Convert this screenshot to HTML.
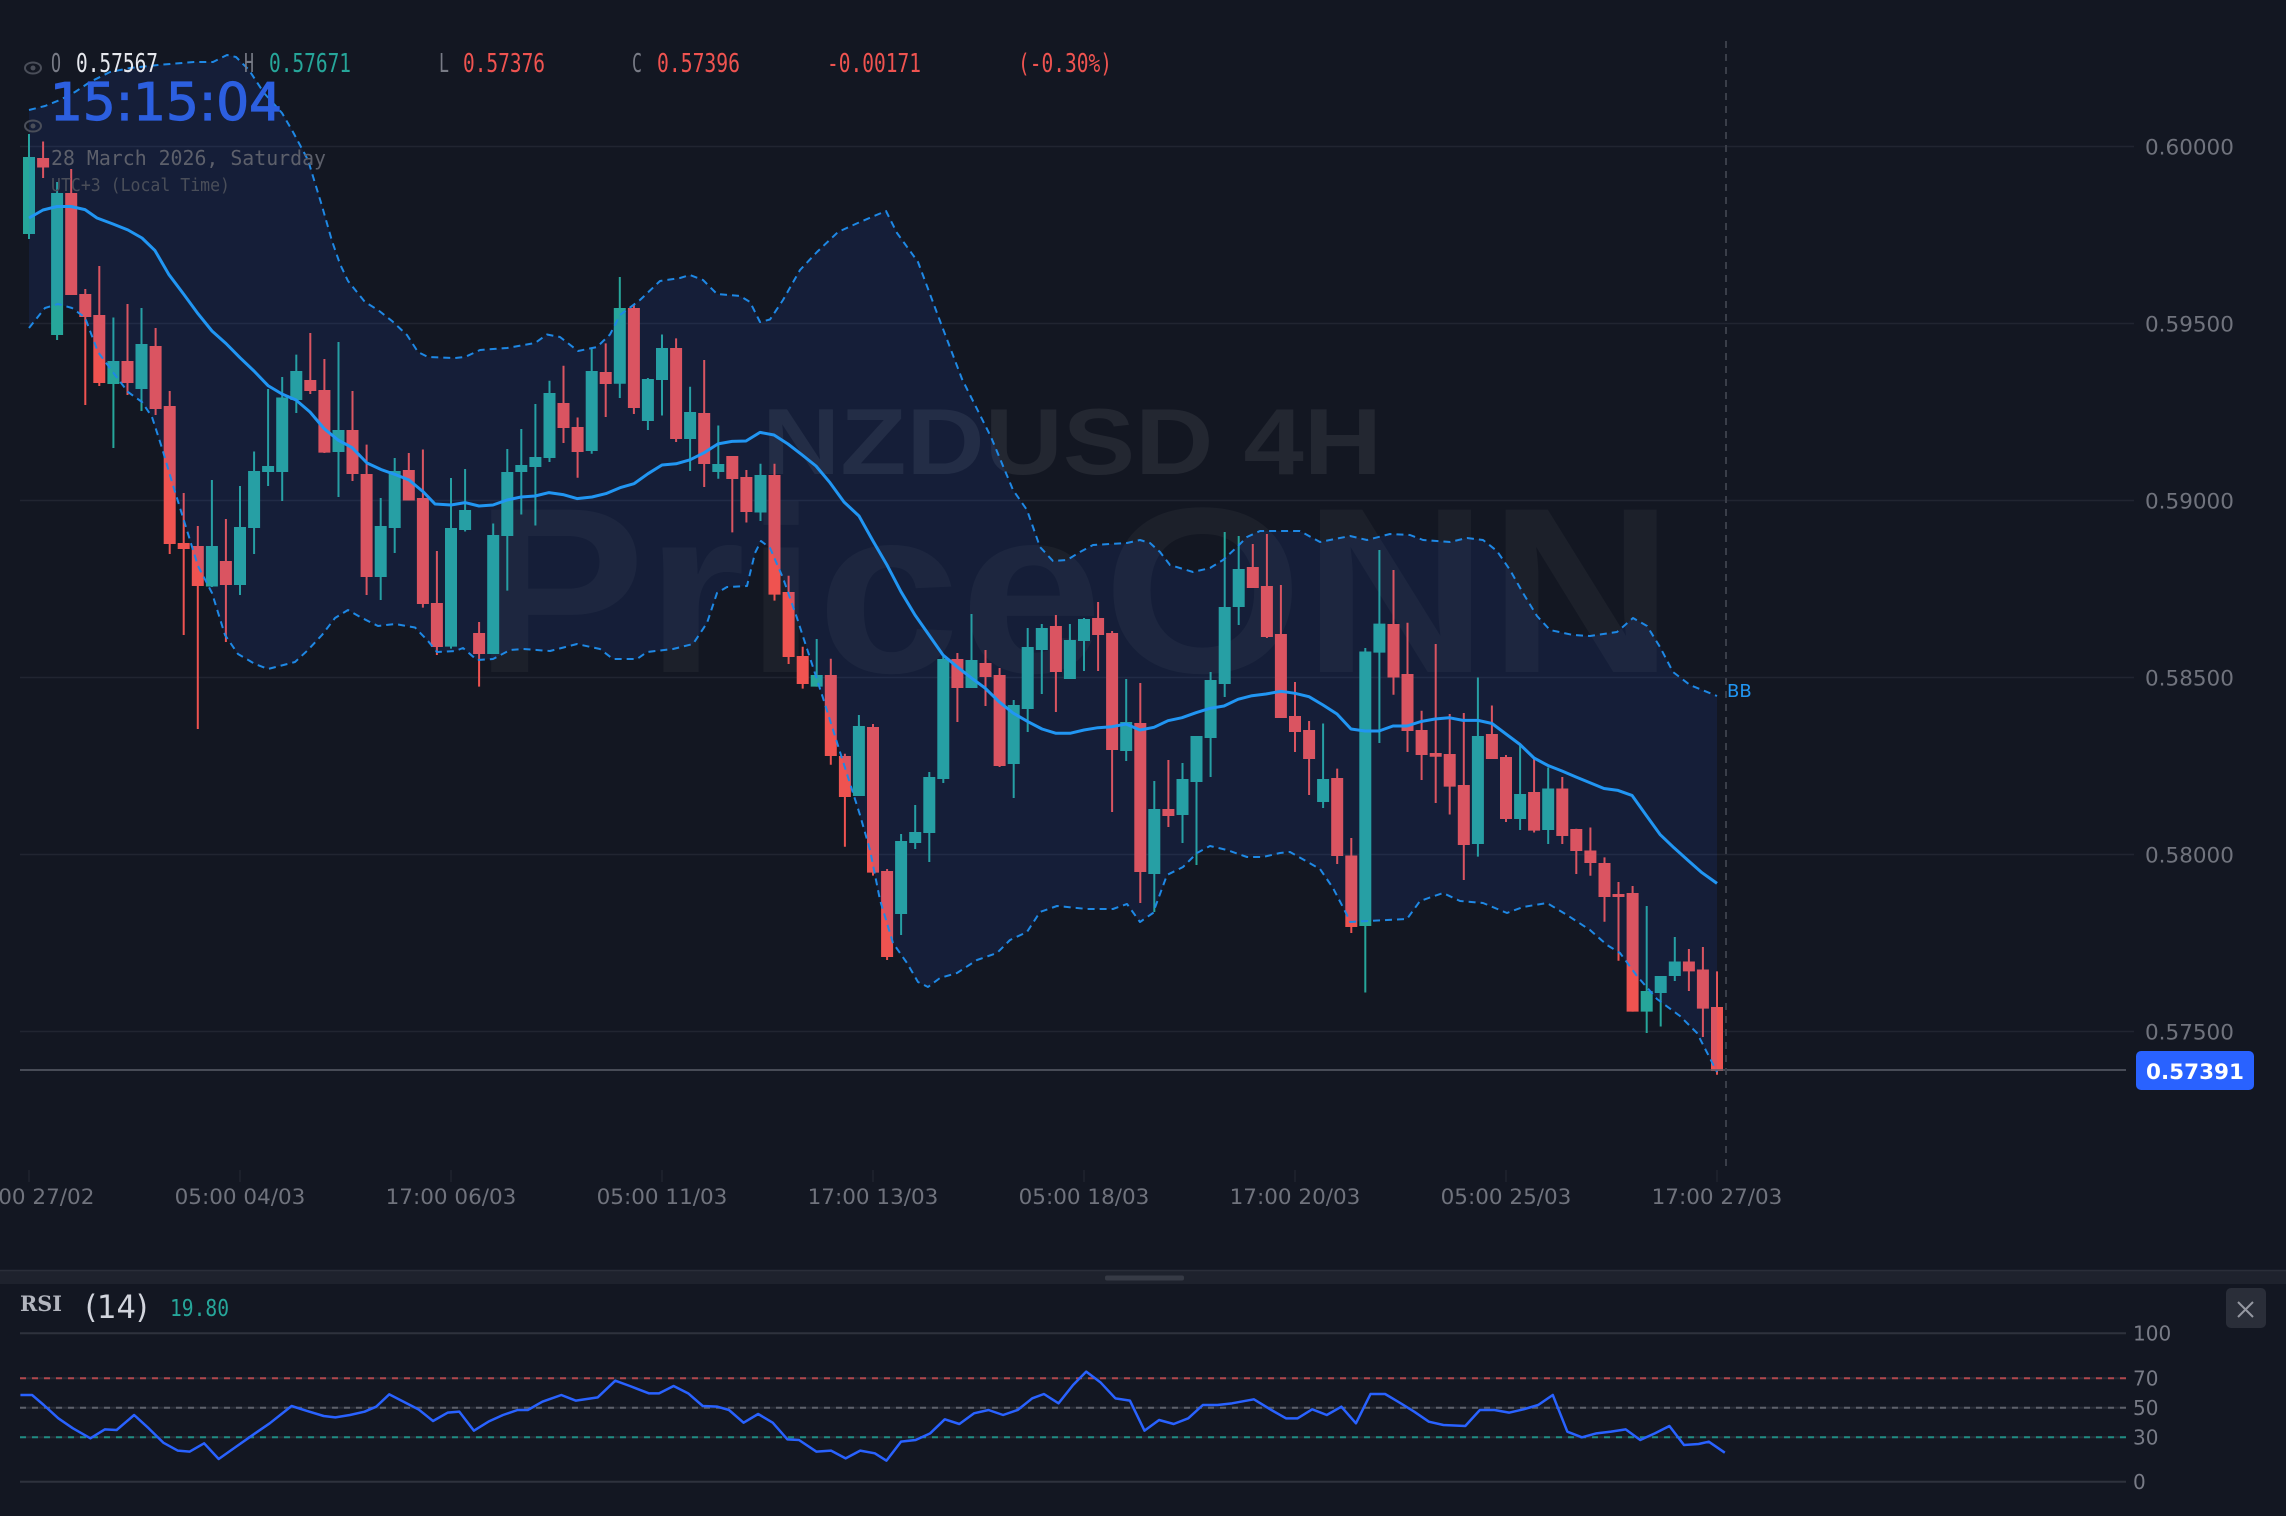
<!DOCTYPE html>
<html><head><meta charset="utf-8"><style>
html,body{margin:0;padding:0;background:#131722;}
svg{display:block;}
</style></head><body>
<svg width="2286" height="1516" viewBox="0 0 2286 1516" xmlns="http://www.w3.org/2000/svg">
<rect x="0" y="0" width="2286" height="1516" fill="#131722"/>
<!-- watermark -->
<text x="474" y="672" font-family="Liberation Sans, DejaVu Sans, sans-serif" font-weight="bold" font-size="236" textLength="1200" lengthAdjust="spacingAndGlyphs" fill="rgba(255,255,255,0.04)">PriceONN</text>
<text x="762" y="474" font-family="Liberation Sans, DejaVu Sans, sans-serif" font-weight="bold" font-size="94" textLength="620" lengthAdjust="spacingAndGlyphs" fill="rgba(255,255,255,0.07)">NZDUSD 4H</text>
<!-- gridlines -->
<g stroke="#212531" stroke-width="1.5">
<line x1="20" y1="146.5" x2="2134" y2="146.5"/>
<line x1="20" y1="323.5" x2="2134" y2="323.5"/>
<line x1="20" y1="500.5" x2="2134" y2="500.5"/>
<line x1="20" y1="677.5" x2="2134" y2="677.5"/>
<line x1="20" y1="854.5" x2="2134" y2="854.5"/>
<line x1="20" y1="1031.5" x2="2134" y2="1031.5"/>
</g>
<!-- teal wicks -->
<path fill="none" stroke="#26a69a" stroke-width="2" d="M29 134V239M57.1 182V340M113.4 317.5V448M141.5 308V411M211.9 480V587M240 486V595M254.1 451.5V554M268.1 389V486M282.2 377V501M296.3 354.6V413M338.5 342V497M380.7 498V600M394.7 458V553M451 478V648.6M465.1 469V531.5M493.2 523.5V654M507.3 449V590.6M521.3 429V514.5M535.4 404V525.5M549.5 380.7V462M591.7 349V453.8M619.8 277V398M647.9 378V430M662 334.5V415.5M690.1 386.7V471M718.3 425.5V478.7M760.5 463.8V521M816.7 639V686.6M858.9 715V796M901.1 834V935M915.2 805V849M929.3 772V862M943.3 655V783M971.5 614V688M1013.7 700V798M1027.7 628V732M1041.8 624V694M1069.9 624V679M1084 618V671M1126.2 679V761M1154.3 781V912M1182.5 763V843M1196.5 736V865M1210.6 672V777M1224.7 532V697M1238.7 536V625M1323.1 723.5V808M1365.3 648V992.5M1379.4 550V743M1477.9 677.5V856.6M1520.1 743.7V830M1548.2 767.5V844M1646.7 906V1033M1660.7 976V1026.5M1674.8 937V981"/>
<!-- teal bodies -->
<path fill="#26a69a" d="M23 157h12V234h-12zM51.1 193h12V335h-12zM107.4 361h12V384h-12zM135.5 344h12V389h-12zM205.9 546h12V586.5h-12zM234 527h12V585h-12zM248.1 471h12V528h-12zM262.1 466h12V472h-12zM276.2 397.5h12V472h-12zM290.3 371h12V400h-12zM332.5 430h12V452h-12zM374.7 526h12V577h-12zM388.7 471h12V528h-12zM445 528h12V646.6h-12zM459.1 510h12V530h-12zM487.2 535h12V654h-12zM501.3 472h12V536h-12zM515.3 465h12V472h-12zM529.4 457h12V467h-12zM543.5 393h12V458h-12zM585.7 371h12V451h-12zM613.8 308h12V383.7h-12zM641.9 379h12V421h-12zM656 348h12V380h-12zM684.1 412h12V439h-12zM712.3 464h12V472h-12zM754.5 475h12V512.5h-12zM810.7 675h12V686.6h-12zM852.9 726h12V796h-12zM895.1 841h12V914h-12zM909.2 832h12V843h-12zM923.3 777h12V833h-12zM937.3 659h12V779h-12zM965.5 660h12V688h-12zM1007.7 705h12V764h-12zM1021.7 647h12V709h-12zM1035.8 628h12V650h-12zM1063.9 640h12V679h-12zM1078 619h12V641h-12zM1120.2 722h12V751h-12zM1148.3 809h12V874h-12zM1176.5 779h12V815h-12zM1190.5 736h12V782h-12zM1204.6 680h12V738h-12zM1218.7 607h12V684h-12zM1232.7 569h12V607h-12zM1317.1 779h12V802h-12zM1359.3 651.5h12V926h-12zM1373.4 623.6h12V652.6h-12zM1471.9 736h12V844h-12zM1514.1 794h12V819h-12zM1542.2 788.5h12V830h-12zM1640.7 991h12V1011.6h-12zM1654.7 976h12V993h-12zM1668.8 961.5h12V976h-12z"/>
<!-- red wicks -->
<path fill="none" stroke="#ef5350" stroke-width="2" d="M43.1 141.5V178M71.2 169V295M85.3 289V405M99.3 266V386M127.5 304V395M155.6 328V415M169.7 391V554M183.7 493V635M197.8 526V729M225.9 519V642M310.3 333V394M324.4 359V453M352.5 391V481M366.6 444.6V595M408.8 453V500.5M422.9 449.5V607.6M436.9 551V655M479.1 622V686.6M563.5 365.8V443M577.6 417.5V477.7M605.7 343.4V417M633.9 304.6V414M676.1 338.4V442M704.2 360V487M732.3 456V532.4M746.4 470V522.5M774.5 463.8V600.6M788.6 575.7V664M802.7 646.8V688.6M830.8 658.8V764.7M844.9 753.8V846.8M873 724V875.6M887.1 869V960M957.4 653V722M985.5 650V706M999.6 668V767M1055.9 615V712M1098.1 602V671M1112.1 631V812M1140.3 683V903M1168.4 760V827M1252.8 544V588M1266.9 534V638M1280.9 585V718M1295 682V752M1309.1 721V795M1337.2 768.6V864M1351.3 838V933M1393.5 570V694.7M1407.5 622.8V752M1421.6 710.8V780M1435.7 644V803M1449.7 714V814.5M1463.8 713V880M1491.9 705.5V759M1506 755V822M1534.1 759V832.5M1562.3 777V844M1576.3 828.7V874M1590.4 827.5V875.8M1604.5 857.4V921.7M1618.5 882V960.7M1632.6 886V1011.6M1688.9 949V991M1702.9 947V1037M1717 971.4V1074.7"/>
<!-- red bodies -->
<path fill="#ef5350" d="M37.1 158h12V167.5h-12zM65.2 193h12V295h-12zM79.3 294h12V317h-12zM93.3 315h12V383h-12zM121.5 361h12V383h-12zM149.6 346h12V409h-12zM163.7 406h12V544h-12zM177.7 543h12V549h-12zM191.8 546h12V586h-12zM219.9 561h12V585h-12zM304.3 380h12V391h-12zM318.4 390h12V452.6h-12zM346.5 430h12V474h-12zM360.6 474h12V577h-12zM402.8 470h12V500.5h-12zM416.9 498h12V604h-12zM430.9 603h12V647h-12zM473.1 633h12V654h-12zM557.5 403h12V428h-12zM571.6 427h12V452h-12zM599.7 372h12V384h-12zM627.9 308h12V408h-12zM670.1 348h12V439h-12zM698.2 413h12V464h-12zM726.3 456h12V479h-12zM740.4 477h12V512h-12zM768.5 475h12V594.6h-12zM782.6 592h12V657h-12zM796.7 656h12V684h-12zM824.8 675h12V756h-12zM838.9 756h12V797h-12zM867 727h12V872.6h-12zM881.1 871h12V957h-12zM951.4 659h12V688h-12zM979.5 663h12V677h-12zM993.6 675h12V766h-12zM1049.9 626h12V672h-12zM1092.1 618h12V635h-12zM1106.1 633h12V750h-12zM1134.3 723h12V872h-12zM1162.4 809h12V816h-12zM1246.8 567h12V588h-12zM1260.9 586h12V637h-12zM1274.9 634h12V718h-12zM1289 716h12V732h-12zM1303.1 730h12V759h-12zM1331.2 778h12V856h-12zM1345.3 855.5h12V927h-12zM1387.5 624h12V677.5h-12zM1401.5 674h12V731h-12zM1415.6 730h12V755h-12zM1429.7 753h12V756.7h-12zM1443.7 754h12V786.6h-12zM1457.8 785h12V845h-12zM1485.9 734h12V759h-12zM1500 757h12V819h-12zM1528.1 792h12V830.6h-12zM1556.3 788.5h12V836h-12zM1570.3 829h12V851h-12zM1584.4 850.5h12V863h-12zM1598.5 863h12V897h-12zM1612.5 894h12V897h-12zM1626.6 893h12V1011.6h-12zM1682.9 961.5h12V971.4h-12zM1696.9 969.5h12V1008.6h-12zM1711 1007h12V1071h-12z"/>
<!-- band fill -->
<polygon fill="rgba(41,98,255,0.1)" points="29,110 45,106 60,100 75,92 90,82 110,72 130,68 158,65 194,62 213,62 227,55 236,57 249,70 264,93 282,113 293,132 308,160 322,206 332,241 340,264 348,281 365,302 378,310 392,321 407,335 418,352 428,357 455,358 465,357 480,350 507,348 535,343 547,334.5 560,337 578,351 597,347 610,334.5 620,315 640,300 660,281 680,278 690,275 703,280 717,294 740,296 750,302 760,322 770,319.5 783,300 800,270 817,252 838,232 860,222 886,211 897,233 918,262 940,321 962,379 991,437 1013,490 1027,510 1040,547 1053,561 1067,560 1080,552 1093,545 1127,543 1140,540 1150,543 1160,552 1170,565 1193,572 1210,568 1223,560 1237,547 1247,537 1260,531 1300,531 1320,542 1350,536 1367,540 1390,534 1410,535 1423,540 1450,542 1467,538 1483,540 1497,551 1510,570 1523,593 1537,616 1550,630 1573,635 1590,636 1617,632 1633,618 1647,626 1660,647 1673,672 1690,685 1717,696 1717,1072 1697,1033 1680,1016 1657,999 1637,976 1620,953 1607,945 1590,930 1567,915 1547,903 1523,907 1507,913 1483,903 1460,901 1443,893 1420,901 1407,919 1377,920.5 1350,922 1347,915 1333,888 1320,869 1290,852 1280,853 1263,857 1247,857 1227,850 1210,846 1197,853 1183,867 1167,875 1153,913 1140,922 1127,904 1113,909 1087,909 1057,906 1040,912 1027,932 1010,940 997,953 977,960 957,973 940,978 928,987 918,982 907,963 893,943 880,900 870,850 860,815 840,752 823,698 810,658 797,618 783,578 770,548 761,541 755,553 747,586 727,587 717,593 707,623 693,644 673,649 647,652 637,659 613,659 600,649 577,644 550,651 523,649 510,650 493,659 477,660 463,648 455,651 437,652 428,641 415,627.5 395,624 378,626 362,618 348,610 335,618 322,635 308,650 295,662 268,669 255,664 238,654 225,635 212,593 198,566 185,524 172,482 162,448 152,417 142,402 128,392 115,375 98,352 85,317.5 72,308 58,304 45,308 29,328"/>
<!-- band lines -->
<g fill="none" stroke="#1e88e5" stroke-width="2" stroke-dasharray="7 5" stroke-linejoin="round">
<polyline points="29,110 45,106 60,100 75,92 90,82 110,72 130,68 158,65 194,62 213,62 227,55 236,57 249,70 264,93 282,113 293,132 308,160 322,206 332,241 340,264 348,281 365,302 378,310 392,321 407,335 418,352 428,357 455,358 465,357 480,350 507,348 535,343 547,334.5 560,337 578,351 597,347 610,334.5 620,315 640,300 660,281 680,278 690,275 703,280 717,294 740,296 750,302 760,322 770,319.5 783,300 800,270 817,252 838,232 860,222 886,211 897,233 918,262 940,321 962,379 991,437 1013,490 1027,510 1040,547 1053,561 1067,560 1080,552 1093,545 1127,543 1140,540 1150,543 1160,552 1170,565 1193,572 1210,568 1223,560 1237,547 1247,537 1260,531 1300,531 1320,542 1350,536 1367,540 1390,534 1410,535 1423,540 1450,542 1467,538 1483,540 1497,551 1510,570 1523,593 1537,616 1550,630 1573,635 1590,636 1617,632 1633,618 1647,626 1660,647 1673,672 1690,685 1717,696"/>
<polyline points="29,328 45,308 58,304 72,308 85,317.5 98,352 115,375 128,392 142,402 152,417 162,448 172,482 185,524 198,566 212,593 225,635 238,654 255,664 268,669 295,662 308,650 322,635 335,618 348,610 362,618 378,626 395,624 415,627.5 428,641 437,652 455,651 463,648 477,660 493,659 510,650 523,649 550,651 577,644 600,649 613,659 637,659 647,652 673,649 693,644 707,623 717,593 727,587 747,586 755,553 761,541 770,548 783,578 797,618 810,658 823,698 840,752 860,815 870,850 880,900 893,943 907,963 918,982 928,987 940,978 957,973 977,960 997,953 1010,940 1027,932 1040,912 1057,906 1087,909 1113,909 1127,904 1140,922 1153,913 1167,875 1183,867 1197,853 1210,846 1227,850 1247,857 1263,857 1280,853 1290,852 1320,869 1333,888 1347,915 1350,922 1377,920.5 1407,919 1420,901 1443,893 1460,901 1483,903 1507,913 1523,907 1547,903 1567,915 1590,930 1607,945 1620,953 1637,976 1657,999 1680,1016 1697,1033 1717,1072"/>
</g>
<!-- MA -->
<polyline fill="none" stroke="#2196f3" stroke-width="3" stroke-linejoin="round" points="29,218 43,210 57,206.5 71,206.5 85,209.6 97,218 113,224 128,230 142,238 155,250.6 169,274.7 184,294.6 198,313.7 212,331 226,343.5 240,357.7 254,371 268,385.6 282,394 296,400 310,412 324,428.5 338,440 352,447.6 367,463 381,469.5 395,474.4 409,480 423,491.6 435,504 451,505 465,502.6 479,506 493,505 507,500 521,497 535,496 549,492.6 563,494.6 577,498.6 592,497 606,493.6 620,487.7 634,483.7 648,473.7 662,465 676,463.8 690,459.8 704,452.8 718,443.9 732,441.4 746,441 760,432.4 774,435 788,444 802,454.8 816,466 830,482.7 844,502 859,516 873,541 887,565 901,591.7 915,615 929,635 943,655 957,666.7 971,677.7 985,688 999,701.7 1013,713 1028,721.7 1042,729 1056,733.3 1070,733.3 1084,730 1098,727.7 1112,726.7 1126,724 1140,730 1154,727.3 1168,720.7 1182,717.7 1196,712.7 1210,708.3 1224,706 1238,699.3 1252,695.7 1266,694 1281,691.3 1295,693.3 1309,696.7 1323,705 1337,714 1351,729 1365,731 1379,731 1393,726 1407,726 1421,721.5 1435,719 1449,717.7 1463,720.4 1478,720.4 1492,723.5 1506,734 1520,744.5 1534,758 1548,765.5 1562,771 1576,777 1590,782.8 1604,788.5 1618,790.4 1632,795.4 1646,815 1660,834.4 1674,847.8 1688,860.4 1702,872.7 1717,883.4"/>
<!-- price line -->
<line x1="20" y1="1070" x2="2126" y2="1070" stroke="#5a5e69" stroke-width="1.5"/>
<!-- crosshair -->
<line x1="1726" y1="41" x2="1726" y2="1166" stroke="#3a3e49" stroke-width="2" stroke-dasharray="7 6"/>
<text x="1727" y="697" font-family="DejaVu Sans, sans-serif" font-size="18" fill="#2196f3">BB</text>
<!-- price axis labels -->
<g font-family="DejaVu Sans, sans-serif" font-size="21.5" fill="#70737d">
<text x="2145" y="154.5">0.60000</text>
<text x="2145" y="331.5">0.59500</text>
<text x="2145" y="508.5">0.59000</text>
<text x="2145" y="685.5">0.58500</text>
<text x="2145" y="862.5">0.58000</text>
<text x="2145" y="1039.5">0.57500</text>
</g>
<rect x="2136" y="1051" width="118" height="39" rx="5" fill="#2962ff"/>
<text x="2195" y="1079" text-anchor="middle" font-family="DejaVu Sans, sans-serif" font-weight="bold" font-size="21.5" fill="#ffffff">0.57391</text>
<!-- x axis -->
<g stroke="#1f232e" stroke-width="1.5">
<line x1="29" y1="1170" x2="29" y2="1182"/><line x1="240" y1="1170" x2="240" y2="1182"/><line x1="451" y1="1170" x2="451" y2="1182"/><line x1="662" y1="1170" x2="662" y2="1182"/><line x1="873" y1="1170" x2="873" y2="1182"/><line x1="1084" y1="1170" x2="1084" y2="1182"/><line x1="1295" y1="1170" x2="1295" y2="1182"/><line x1="1506" y1="1170" x2="1506" y2="1182"/><line x1="1717" y1="1170" x2="1717" y2="1182"/>
</g>
<g font-family="DejaVu Sans, sans-serif" font-size="21.5" fill="#70737d" text-anchor="middle">
<text x="29" y="1204">17:00 27/02</text>
<text x="240" y="1204">05:00 04/03</text>
<text x="451" y="1204">17:00 06/03</text>
<text x="662" y="1204">05:00 11/03</text>
<text x="873" y="1204">17:00 13/03</text>
<text x="1084" y="1204">05:00 18/03</text>
<text x="1295" y="1204">17:00 20/03</text>
<text x="1506" y="1204">05:00 25/03</text>
<text x="1717" y="1204">17:00 27/03</text>
</g>
<!-- header -->
<g fill="none" stroke="#4a4e59" stroke-width="2">
<ellipse cx="33" cy="68" rx="8" ry="5.5"/>
<ellipse cx="33" cy="126" rx="8" ry="5.5"/>
</g>
<circle cx="33" cy="68" r="2.5" fill="#4a4e59"/>
<circle cx="33" cy="126" r="2.5" fill="#4a4e59"/>
<g font-family="DejaVu Sans Mono, Liberation Mono, monospace" font-size="23" transform="translate(0,72) scale(1,1.12) translate(0,-72)">
<text x="51" y="72" fill="#787b86" textLength="10" lengthAdjust="spacingAndGlyphs">O</text>
<text x="76" y="72" fill="#e6e8ee" textLength="82" lengthAdjust="spacingAndGlyphs">0.57567</text>
<text x="244" y="72" fill="#787b86" textLength="10" lengthAdjust="spacingAndGlyphs">H</text>
<text x="269" y="72" fill="#26a69a" textLength="82" lengthAdjust="spacingAndGlyphs">0.57671</text>
<text x="439" y="72" fill="#787b86" textLength="10" lengthAdjust="spacingAndGlyphs">L</text>
<text x="463" y="72" fill="#ef5350" textLength="82" lengthAdjust="spacingAndGlyphs">0.57376</text>
<text x="632" y="72" fill="#787b86" textLength="10" lengthAdjust="spacingAndGlyphs">C</text>
<text x="657" y="72" fill="#ef5350" textLength="83" lengthAdjust="spacingAndGlyphs">0.57396</text>
<text x="827" y="72" fill="#ef5350" textLength="94" lengthAdjust="spacingAndGlyphs">-0.00171</text>
<text x="1018" y="72" fill="#ef5350" textLength="94" lengthAdjust="spacingAndGlyphs">(-0.30%)</text>
</g>
<text x="50" y="120" font-family="DejaVu Sans, sans-serif" font-size="52" fill="#2c5fe0" stroke="#2c5fe0" stroke-width="1.2" textLength="232" lengthAdjust="spacingAndGlyphs">15:15:04</text>
<text x="51" y="165" font-family="DejaVu Sans Mono, Liberation Mono, monospace" font-size="20.5" fill="#5d606b" textLength="275" lengthAdjust="spacingAndGlyphs">28 March 2026, Saturday</text>
<text x="51" y="191" font-family="DejaVu Sans Mono, Liberation Mono, monospace" font-size="18" fill="#4a4e59" textLength="179" lengthAdjust="spacingAndGlyphs">UTC+3 (Local Time)</text>
<!-- separator -->
<rect x="0" y="1270" width="2286" height="14" fill="#1e222d"/>
<line x1="0" y1="1270.5" x2="2286" y2="1270.5" stroke="#2a2e39" stroke-width="1.5"/>
<rect x="1105" y="1275.5" width="79" height="5" rx="2" fill="#363a45"/>
<!-- RSI panel -->
<g stroke-width="2">
<line x1="20" y1="1333.3" x2="2126" y2="1333.3" stroke="#2e323d"/>
<line x1="20" y1="1481.7" x2="2126" y2="1481.7" stroke="#2e323d"/>
<line x1="20" y1="1378.3" x2="2126" y2="1378.3" stroke="#262a35"/>
<line x1="20" y1="1407.7" x2="2126" y2="1407.7" stroke="#262a35"/>
<line x1="20" y1="1437.3" x2="2126" y2="1437.3" stroke="#262a35"/>
<line x1="20" y1="1378.3" x2="2126" y2="1378.3" stroke="#b0474d" stroke-dasharray="6 6"/>
<line x1="20" y1="1407.7" x2="2126" y2="1407.7" stroke="#5d606b" stroke-dasharray="6 6"/>
<line x1="20" y1="1437.3" x2="2126" y2="1437.3" stroke="#1f8c82" stroke-dasharray="6 6"/>
</g>
<g font-family="DejaVu Sans, sans-serif" font-size="20" fill="#787b86">
<text x="2133" y="1340.7">100</text>
<text x="2133" y="1385.7">70</text>
<text x="2133" y="1415">50</text>
<text x="2133" y="1444.7">30</text>
<text x="2133" y="1489">0</text>
</g>
<text x="20" y="1311" font-family="DejaVu Serif, Liberation Serif, serif" font-weight="bold" font-size="21" fill="#b2b5be" textLength="42" lengthAdjust="spacingAndGlyphs">RSI</text>
<text x="85" y="1318" font-family="DejaVu Sans, sans-serif" font-size="32" fill="#d1d4dc" textLength="63" lengthAdjust="spacingAndGlyphs">(14)</text>
<text x="170" y="1316" font-family="DejaVu Sans Mono, Liberation Mono, monospace" font-size="23" fill="#26a69a" textLength="59" lengthAdjust="spacingAndGlyphs">19.80</text>
<rect x="2226" y="1288" width="40" height="40" rx="5" fill="#2a2e39"/>
<path d="M2238 1302L2253 1317M2253 1302L2238 1317" stroke="#9598a1" stroke-width="2" fill="none"/>
<polyline fill="none" stroke="#2962ff" stroke-width="2.5" stroke-linejoin="round" vector-effect="non-scaling-stroke" transform="translate(0,1260) scale(1.458,0.33333)" points="14,405 22,405 30,435 40,475 50,505 62,535 72,508 80,510 92,465 102,505 112,548 122,572 130,575 140,550 150,597 162,560 175,520 185,490 200,438 210,452 222,468 230,472 240,465 250,455 258,440 267,403 278,428 287,448 297,483 307,458 315,455 325,512 335,485 345,465 355,450 362,450 372,425 385,405 395,422 410,412 422,362 432,378 445,400 452,400 462,378 472,400 482,438 492,440 500,450 510,488 520,462 530,488 540,538 548,540 560,575 570,572 580,595 590,572 600,580 608,602 618,545 628,540 638,520 648,478 658,492 668,460 678,450 688,465 698,450 708,415 716,402 726,430 736,375 745,335 755,368 765,415 775,422 785,512 795,480 805,492 815,475 825,435 835,435 845,430 860,418 872,450 882,475 890,475 900,448 910,465 920,440 930,490 940,402 950,402 960,428 970,455 980,485 990,495 1005,498 1015,450 1025,450 1035,458 1045,448 1055,435 1065,405 1075,515 1085,532 1095,520 1105,515 1115,508 1125,540 1135,520 1145,498 1155,555 1165,552 1172,545 1183,578"/>
</svg>
</body></html>
